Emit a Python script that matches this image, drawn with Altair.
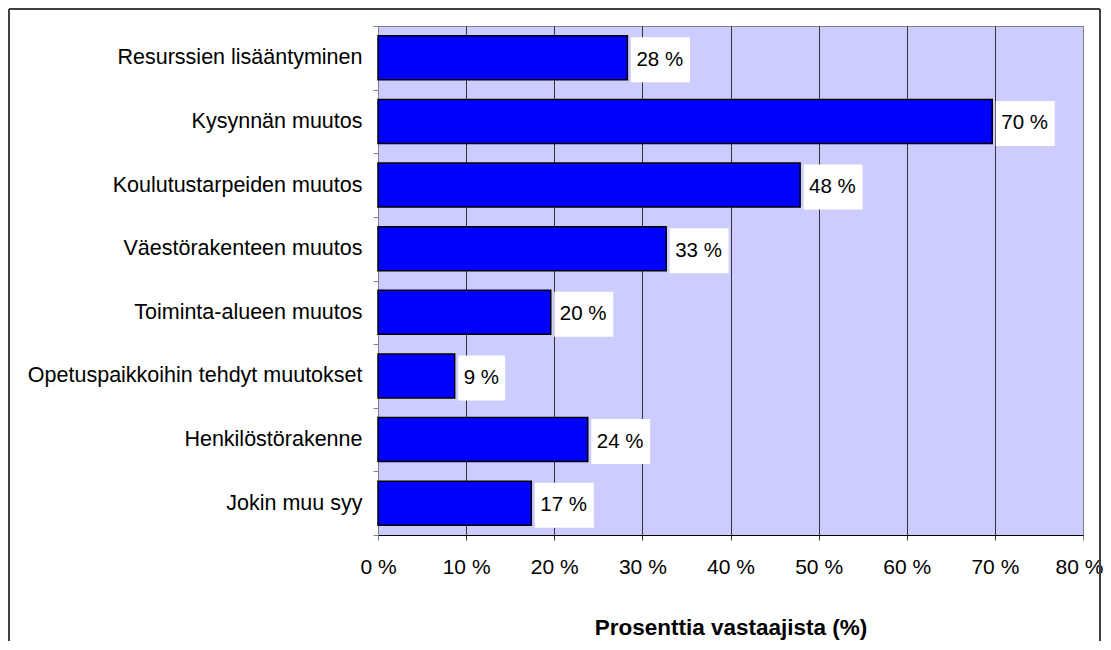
import altair as alt
import pandas as pd

categories = [
    "Resurssien lisääntyminen",
    "Kysynnän muutos",
    "Koulutustarpeiden muutos",
    "Väestörakenteen muutos",
    "Toiminta-alueen muutos",
    "Opetuspaikkoihin tehdyt muutokset",
    "Henkilöstörakenne",
    "Jokin muu syy",
]
values = [28.3, 69.7, 47.9, 32.7, 19.6, 8.7, 23.8, 17.4]
x_ticks = [0, 10, 20, 30, 40, 50, 60, 70, 80]

df = pd.DataFrame({"cat": categories, "val": values})
df["label"] = [f"{round(v)} %" for v in values]

FONT = "Liberation Sans"

y_enc = alt.Y(
    "cat:N",
    sort=categories,
    scale=alt.Scale(paddingInner=0, paddingOuter=0),
    axis=alt.Axis(
        title=None,
        tickBand="extent",
        grid=False,
        domainColor="#808080",
        tickColor="#808080",
        tickSize=5,
        labelFont=FONT,
        labelFontSize=21.5,
        labelColor="black",
        labelPadding=11,
        labelLimit=400,
    ),
)

x_scale = alt.Scale(domain=[0, 80], nice=False)
x_enc = alt.X(
    "val:Q",
    scale=x_scale,
    axis=alt.Axis(
        values=x_ticks,
        labelExpr="datum.value + ' %'",
        labelFlush=False,
        labelOffset=alt.condition("datum.value == 80", alt.value(-4), alt.value(0)),
        grid=True,
        gridColor=alt.condition("datum.value == 80 || datum.value == 0", alt.value("#808080"), alt.value("#333333")),
        tickColor=alt.condition("datum.value == 80 || datum.value == 0", alt.value("#808080"), alt.value("#333333")),
        gridWidth=1,
        domainColor="black",
        tickSize=5,
        labelFont=FONT,
        labelFontSize=21,
        labelColor="black",
        labelPadding=16,
        title="Prosenttia vastaajista (%)",
        titleFont=FONT,
        titleFontSize=22.5,
        titleFontWeight="bold",
        titleColor="black",
        titlePadding=39,
    ),
)

base = alt.Chart(df)

bars = base.mark_bar(size=44, color="#0000FF", stroke="black", strokeWidth=1.5).encode(
    x=x_enc, y=y_enc
)

box2 = base.transform_filter("length(datum.label) > 3").mark_bar(
    size=45, color="white", xOffset=3.5, x2Offset=62.5, yOffset=2
).encode(x=alt.X("val:Q", scale=x_scale), x2="val:Q", y=alt.Y("cat:N", sort=categories))

box1 = base.transform_filter("length(datum.label) <= 3").mark_bar(
    size=45, color="white", xOffset=3.5, x2Offset=50.5, yOffset=2
).encode(x=alt.X("val:Q", scale=x_scale), x2="val:Q", y=alt.Y("cat:N", sort=categories))

texts = base.mark_text(
    align="left", baseline="middle", dx=9, dy=2, fontSize=20.5, font=FONT, color="black"
).encode(x=alt.X("val:Q", scale=x_scale), y=alt.Y("cat:N", sort=categories), text="label:N")

frame_color = "#404040"
frame_l = base.mark_rule(color=frame_color, strokeWidth=2).encode(
    x=alt.value(-369), y=alt.value(-17), y2=alt.value(630)
)
frame_t = base.mark_rule(color=frame_color, strokeWidth=2).encode(
    x=alt.value(-369), x2=alt.value(722), y=alt.value(-17)
)
frame_r = base.mark_rule(color=frame_color, strokeWidth=2).encode(
    x=alt.value(722), y=alt.value(-17), y2=alt.value(630)
)

chart = (
    alt.layer(bars, box2, box1, texts, frame_l, frame_t, frame_r)
    .properties(
        width=705,
        height=509,
        autosize=alt.AutoSizeParams(type="none"),
        padding={"left": 370, "top": 18, "right": 20, "bottom": 106},
        background="white",
    )
    .configure_view(fill="#CCCCFF", stroke="#808080", strokeWidth=1)
)

chart.save("out.html", embed_options={"renderer": "svg", "actions": False})
